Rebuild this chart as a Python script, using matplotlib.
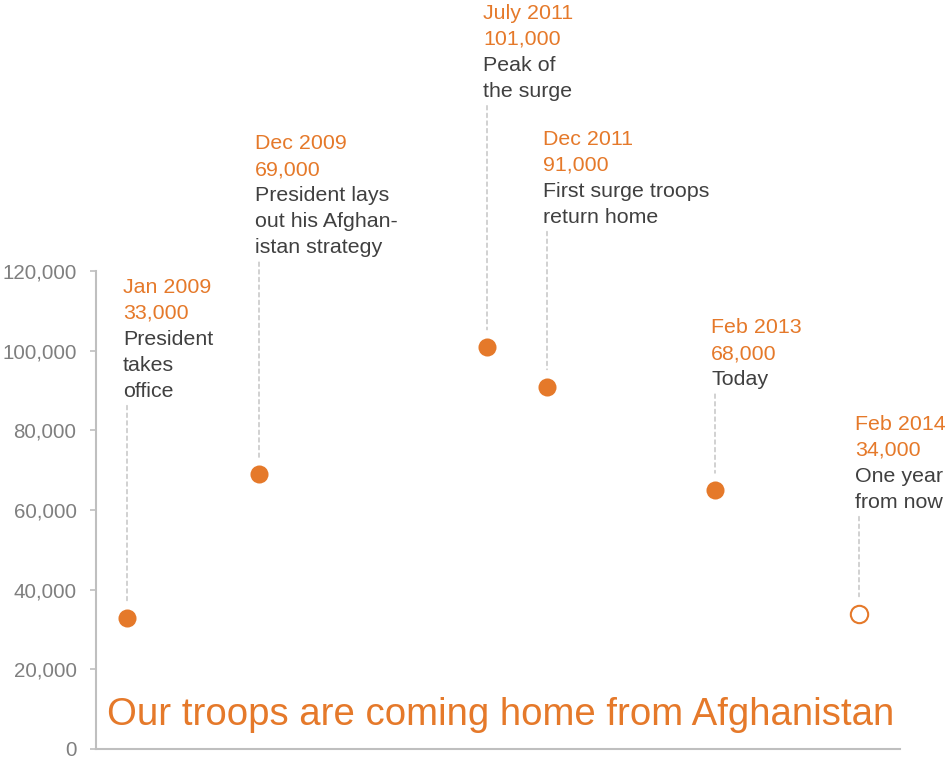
import matplotlib
matplotlib.use("Agg")
import matplotlib.pyplot as plt

plt.rcParams['font.family'] = ['Liberation Sans', 'DejaVu Sans']

# ---- data ----
years = [2009, 2009, 2011, 2011, 2013, 2014]
months = [1, 12, 7, 12, 2, 2]
troops = [33000, 69000, 101000, 91000, 65000, 34000]
date_labels = ["Jan 2009", "Dec 2009", "July 2011", "Dec 2011", "Feb 2013", "Feb 2014"]
count_labels = ["33,000", "69,000", "101,000", "91,000", "68,000", "34,000"]
descriptions = [
    ["President", "takes", "office"],
    ["President lays", "out his Afghan-", "istan strategy"],
    ["Peak of", "the surge"],
    ["First surge troops", "return home"],
    ["Today"],
    ["One year", "from now"],
]
projected = [False, False, False, False, False, True]
y_ticks = [0, 20000, 40000, 60000, 80000, 100000, 120000]
title = "Our troops are coming home from Afghanistan"

# ---- layout (pixels) ----
label_rise_px = [221, 221, 250, 164, 105, 106]
line_step_px = 26
text_dx_px = -4

ORANGE = "#E5792A"
DARK = "#404040"
GRAY = "#7f7f7f"
AXGRAY = "#bfbfbf"

x_vals = [(y - 2009) * 12 + (m - 1) for y, m in zip(years, months)]

W, H = 948, 762
fig = plt.figure(figsize=(W / 100, H / 100), dpi=100)
ax = fig.add_axes([96 / W, 13 / H, (900 - 96) / W, (749 - 271) / H])
ax.set_xlim(-31 / 12, 773 / 12)
ax.set_ylim(0, 120000)

for sp in ["top", "right"]:
    ax.spines[sp].set_visible(False)
for sp in ["left", "bottom"]:
    ax.spines[sp].set_color(AXGRAY)
    ax.spines[sp].set_linewidth(1.5)
ax.set_xticks([])
ax.set_yticks(y_ticks)
ax.set_yticklabels([f"{v:,}" for v in y_ticks])
ax.tick_params(axis='y', direction='out', length=4.5, width=1.2, color=AXGRAY,
               labelcolor=GRAY, labelsize=14.8, pad=9.5)

for i, (x, y) in enumerate(zip(x_vals, troops)):
    if projected[i]:
        ax.plot(x, y, 'o', ms=12.5, mfc='white', mec=ORANGE, mew=1.5, clip_on=False, zorder=3)
    else:
        ax.plot(x, y, 'o', ms=13, mfc=ORANGE, mec=ORANGE, mew=0, clip_on=False, zorder=3)
    lines = [(date_labels[i], ORANGE), (count_labels[i], ORANGE)] + [(d, DARK) for d in descriptions[i]]
    n = len(lines)
    rise = label_rise_px[i]
    for j, (txt, col) in enumerate(lines):
        dy = rise + (n - 1 - j) * line_step_px
        ax.annotate(txt, xy=(x, y), xytext=(text_dx_px, dy), textcoords='offset pixels',
                    ha='left', va='baseline', fontsize=15.4, color=col, annotation_clip=False)
    # dashed leader
    ax.annotate('', xy=(x, y), xytext=(0, rise - 9), textcoords='offset pixels',
                annotation_clip=False,
                arrowprops=dict(arrowstyle='-', color=AXGRAY, linestyle=(0, (3, 2.5)), lw=1,
                                shrinkA=0, shrinkB=17 * 0.72))

fig.text(107 / W, (H - 725) / H, title, fontsize=27.6, color=ORANGE, ha='left', va='baseline')

fig.savefig("out.png", dpi=100)
